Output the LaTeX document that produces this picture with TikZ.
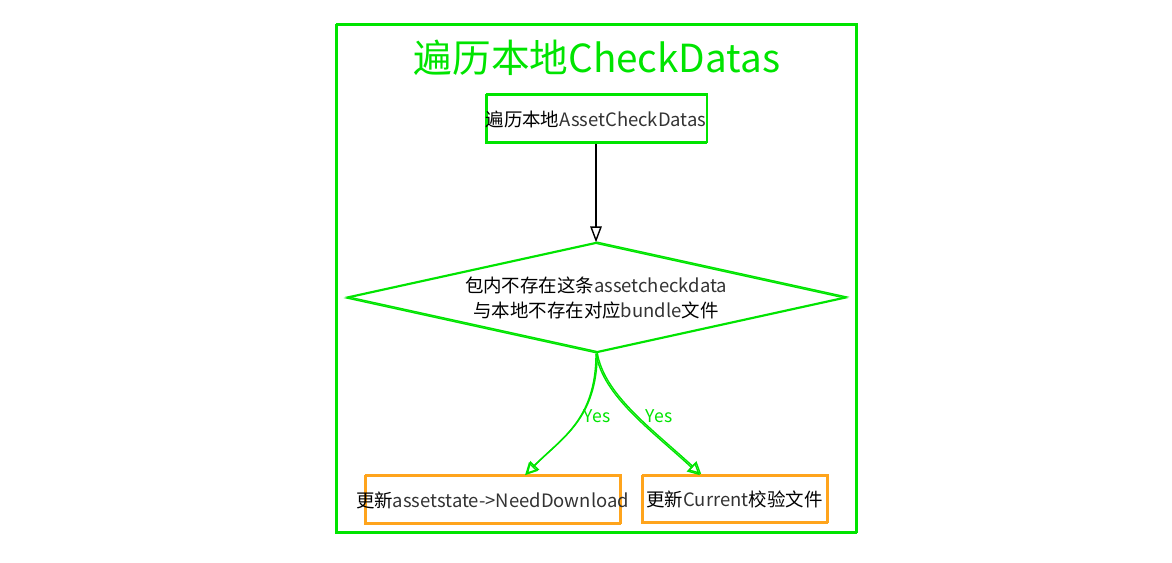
\documentclass[tikz,border=0pt]{standalone}
\usepackage{fontspec}
\newfontfamily\cjk{Noto Sans CJK SC}
\usetikzlibrary{shapes.geometric,arrows.meta}
\definecolor{sketchgreen}{HTML}{00E400}
\definecolor{sketchorange}{HTML}{FFA41C}
\definecolor{latingray}{HTML}{333333}
\newcommand{\lat}[1]{{\color{latingray}#1}}
\begin{document}
\begin{tikzpicture}[x=0.02cm,y=-0.02cm,
  every node/.style={font=\cjk\fontsize{10.5}{14}\selectfont},
  twice/.style={postaction={draw,transform canvas={xshift=0.7pt,yshift=0.6pt}}},
  greenbox/.style={draw=sketchgreen,line width=0.8pt,twice,rectangle,inner sep=0pt},
  orangebox/.style={draw=sketchorange,line width=0.9pt,twice,rectangle,inner sep=0pt},
  decision/.style={draw=sketchgreen,line width=0.8pt,twice,diamond,aspect=4.54,inner sep=0pt,align=center},
  flow/.style={draw=black,line width=0.8pt,-{Triangle[open,length=9pt,width=6.5pt]}},
  yesflow/.style={draw=sketchgreen,line width=0.8pt,twice,-{Triangle[open,length=7pt,width=7pt]}},
  yeslabel/.style={text=sketchgreen,font=\cjk\fontsize{10}{12}\selectfont}]
  \useasboundingbox (0,0) rectangle (1172,563);

  % outer frame and title
  \node[greenbox,minimum width=10.4cm,minimum height=10.16cm,line width=1pt] (frame) at (596,279) {};
  \node[text=sketchgreen,font=\cjk\fontsize{22}{26}\selectfont] (title) at (597,58) {遍历本地CheckDatas};

  % steps
  \node[greenbox,minimum width=4.36cm,minimum height=0.96cm] (start) at (596,119) {遍历本地\lat{AssetCheckDatas}};
  \node[decision,minimum width=9.98cm,minimum height=2.2cm] (cond) at (596,298)
    {包内不存在这条\lat{assetcheckdata}\\与本地不存在对应\lat{bundle}文件};
  \node[orangebox,minimum height=0.96cm] (down) at (492.5,500)
    {\makebox[5.1cm]{更新\lat{assetstate->NeedDownload}}};
  \node[orangebox,minimum height=0.94cm] (cur) at (734.5,499.5)
    {\makebox[3.7cm]{更新\lat{Current}校验文件}};

  % connectors
  \draw[flow] (start.south) -- (cond.north);
  \draw[yesflow] (cond.south) .. controls +(0,67) and +(35,-36) .. ([xshift=0.65cm]down.north);
  \draw[yesflow] (cond.south) .. controls +(7,42) and +(-50,-46) .. ([xshift=-0.69cm]cur.north);
  \node[yeslabel] (yesa) at (597,416) {Yes};
  \node[yeslabel] (yesb) at (659,416) {Yes};
\end{tikzpicture}
\end{document}
